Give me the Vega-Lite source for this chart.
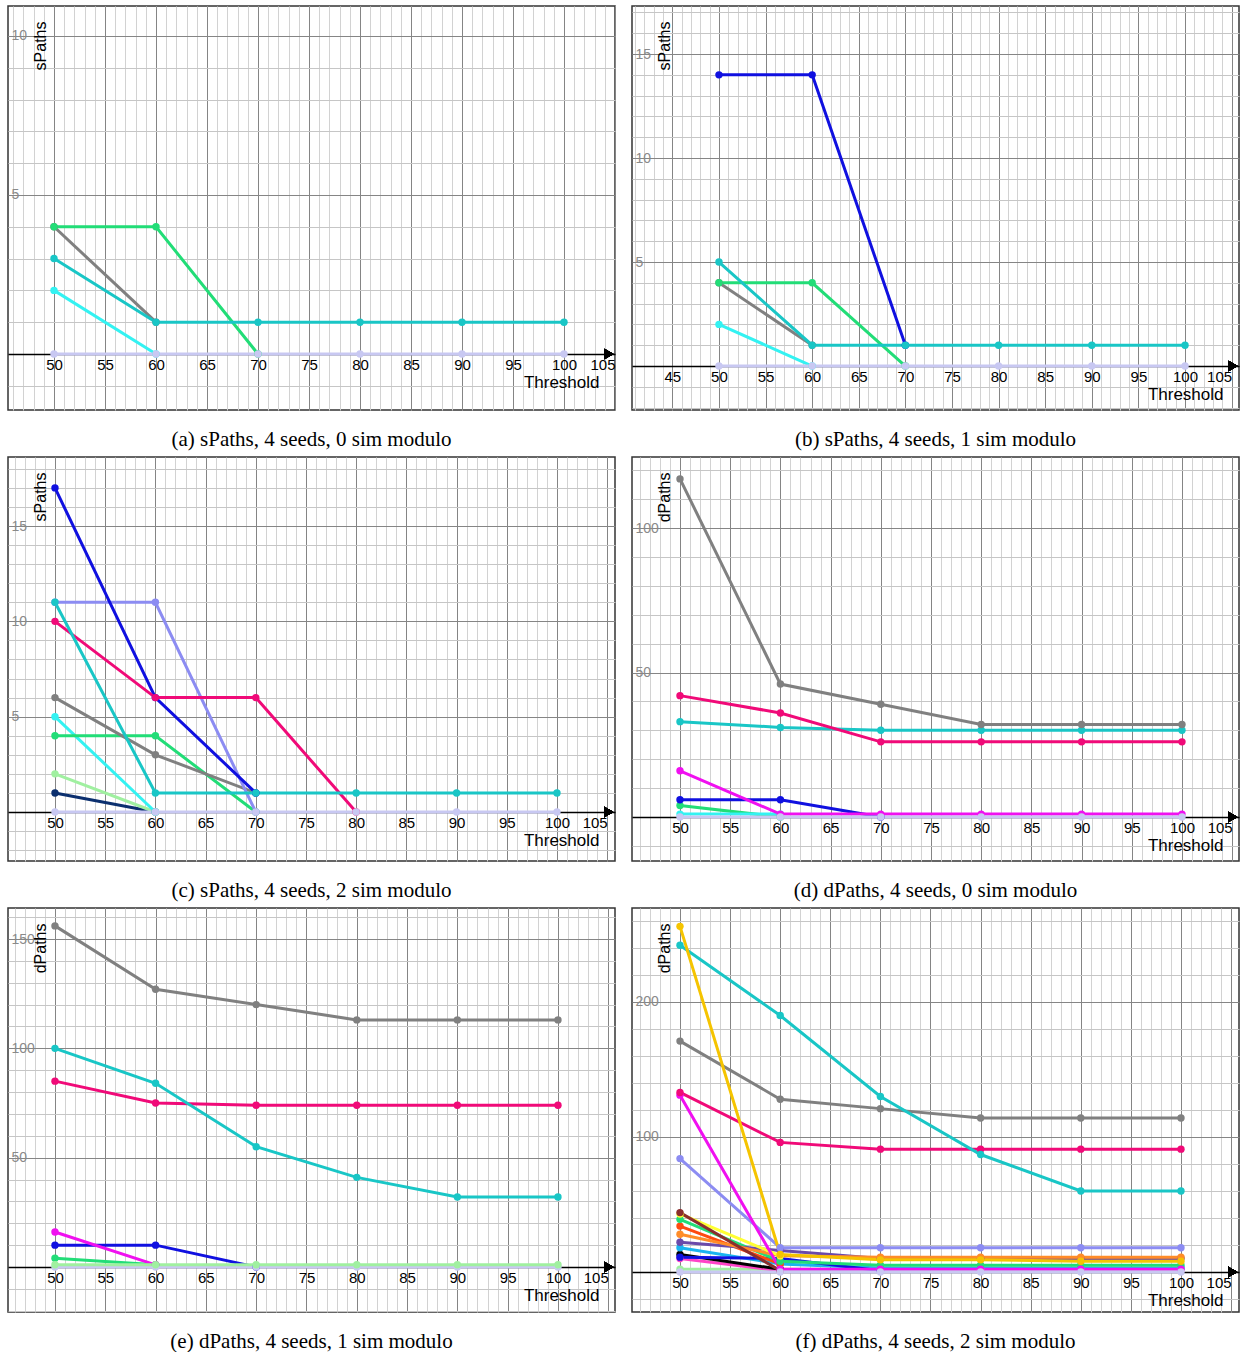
{
"$schema": "https://vega.github.io/schema/vega-lite/v6.json",
"padding": {"left": 7, "top": 5, "right": 0, "bottom": 0},
"columns": 2,
"spacing": {"row": 47, "column": 17},
"bounds": "flush",
"resolve": {"scale": {"color": "independent"}},
"config": {
 "view": {"stroke": "#333333", "strokeWidth": 1.5},
 "axis": {"labelFont": "Liberation Sans", "titleFont": "Liberation Sans"},
 "title": {"orient": "bottom", "font": "Liberation Serif", "fontSize": 21, "fontWeight": "normal", "offset": 19, "color": "black", "anchor": "middle"}
},
"datasets": {
 "a": [
  {"s":"gray","t":50,"v":4},{"s":"gray","t":60,"v":1},
  {"s":"green","t":50,"v":4},{"s":"green","t":60,"v":4},{"s":"green","t":70,"v":0},
  {"s":"cyan","t":50,"v":2},{"s":"cyan","t":60,"v":0},
  {"s":"teal","t":50,"v":3},{"s":"teal","t":60,"v":1},{"s":"teal","t":70,"v":1},{"s":"teal","t":80,"v":1},{"s":"teal","t":90,"v":1},{"s":"teal","t":100,"v":1},
  {"s":"lavender","t":50,"v":0},{"s":"lavender","t":60,"v":0},{"s":"lavender","t":70,"v":0},{"s":"lavender","t":80,"v":0},{"s":"lavender","t":90,"v":0},{"s":"lavender","t":100,"v":0}
 ],
 "b": [
  {"s":"gray","t":50,"v":4},{"s":"gray","t":60,"v":1},
  {"s":"green","t":50,"v":4},{"s":"green","t":60,"v":4},{"s":"green","t":70,"v":0},
  {"s":"cyan","t":50,"v":2},{"s":"cyan","t":60,"v":0},
  {"s":"blue","t":50,"v":14},{"s":"blue","t":60,"v":14},{"s":"blue","t":70,"v":1},
  {"s":"teal","t":50,"v":5},{"s":"teal","t":60,"v":1},{"s":"teal","t":70,"v":1},{"s":"teal","t":80,"v":1},{"s":"teal","t":90,"v":1},{"s":"teal","t":100,"v":1},
  {"s":"lavender","t":50,"v":0},{"s":"lavender","t":60,"v":0},{"s":"lavender","t":70,"v":0},{"s":"lavender","t":80,"v":0},{"s":"lavender","t":90,"v":0},{"s":"lavender","t":100,"v":0}
 ],
 "c": [
  {"s":"navy","t":50,"v":1},{"s":"navy","t":60,"v":0},
  {"s":"lightgreen","t":50,"v":2},{"s":"lightgreen","t":60,"v":0},
  {"s":"cyan","t":50,"v":5},{"s":"cyan","t":60,"v":0},
  {"s":"green","t":50,"v":4},{"s":"green","t":60,"v":4},{"s":"green","t":70,"v":0},
  {"s":"gray","t":50,"v":6},{"s":"gray","t":60,"v":3},{"s":"gray","t":70,"v":1},
  {"s":"periwinkle","t":50,"v":11},{"s":"periwinkle","t":60,"v":11},{"s":"periwinkle","t":70,"v":0},
  {"s":"blue","t":50,"v":17},{"s":"blue","t":60,"v":6},{"s":"blue","t":70,"v":1},
  {"s":"pink","t":50,"v":10},{"s":"pink","t":60,"v":6},{"s":"pink","t":70,"v":6},{"s":"pink","t":80,"v":0},
  {"s":"teal","t":50,"v":11},{"s":"teal","t":60,"v":1},{"s":"teal","t":70,"v":1},{"s":"teal","t":80,"v":1},{"s":"teal","t":90,"v":1},{"s":"teal","t":100,"v":1},
  {"s":"lavender","t":50,"v":0},{"s":"lavender","t":60,"v":0},{"s":"lavender","t":70,"v":0},{"s":"lavender","t":80,"v":0},{"s":"lavender","t":90,"v":0},{"s":"lavender","t":100,"v":0}
 ],
 "d": [
  {"s":"green","t":50,"v":4},{"s":"green","t":60,"v":0},
  {"s":"cyan","t":50,"v":1},{"s":"cyan","t":60,"v":1},
  {"s":"blue","t":50,"v":6},{"s":"blue","t":60,"v":6},{"s":"blue","t":70,"v":0},
  {"s":"magenta","t":50,"v":16},{"s":"magenta","t":60,"v":1},{"s":"magenta","t":70,"v":1},{"s":"magenta","t":80,"v":1},{"s":"magenta","t":90,"v":1},{"s":"magenta","t":100,"v":1},
  {"s":"teal","t":50,"v":33},{"s":"teal","t":60,"v":31},{"s":"teal","t":70,"v":30},{"s":"teal","t":80,"v":30},{"s":"teal","t":90,"v":30},{"s":"teal","t":100,"v":30},
  {"s":"pink","t":50,"v":42},{"s":"pink","t":60,"v":36},{"s":"pink","t":70,"v":26},{"s":"pink","t":80,"v":26},{"s":"pink","t":90,"v":26},{"s":"pink","t":100,"v":26},
  {"s":"gray","t":50,"v":117},{"s":"gray","t":60,"v":46},{"s":"gray","t":70,"v":39},{"s":"gray","t":80,"v":32},{"s":"gray","t":90,"v":32},{"s":"gray","t":100,"v":32},
  {"s":"lavender","t":50,"v":0},{"s":"lavender","t":60,"v":0},{"s":"lavender","t":70,"v":0},{"s":"lavender","t":80,"v":0},{"s":"lavender","t":90,"v":0},{"s":"lavender","t":100,"v":0}
 ],
 "e": [
  {"s":"green","t":50,"v":4},{"s":"green","t":60,"v":1},
  {"s":"blue","t":50,"v":10},{"s":"blue","t":60,"v":10},{"s":"blue","t":70,"v":0},
  {"s":"magenta","t":50,"v":16},{"s":"magenta","t":60,"v":1},
  {"s":"pink","t":50,"v":85},{"s":"pink","t":60,"v":75},{"s":"pink","t":70,"v":74},{"s":"pink","t":80,"v":74},{"s":"pink","t":90,"v":74},{"s":"pink","t":100,"v":74},
  {"s":"teal","t":50,"v":100},{"s":"teal","t":60,"v":84},{"s":"teal","t":70,"v":55},{"s":"teal","t":80,"v":41},{"s":"teal","t":90,"v":32},{"s":"teal","t":100,"v":32},
  {"s":"gray","t":50,"v":156},{"s":"gray","t":60,"v":127},{"s":"gray","t":70,"v":120},{"s":"gray","t":80,"v":113},{"s":"gray","t":90,"v":113},{"s":"gray","t":100,"v":113},
  {"s":"lavender","t":50,"v":0},{"s":"lavender","t":60,"v":0},{"s":"lavender","t":70,"v":0},{"s":"lavender","t":80,"v":0},{"s":"lavender","t":90,"v":0},{"s":"lavender","t":100,"v":0},
  {"s":"lightgreen","t":50,"v":1},{"s":"lightgreen","t":60,"v":1},{"s":"lightgreen","t":70,"v":1},{"s":"lightgreen","t":80,"v":1},{"s":"lightgreen","t":90,"v":1},{"s":"lightgreen","t":100,"v":1}
 ],
 "f": [
  {"s":"lightgreen","t":50,"v":2},{"s":"lightgreen","t":60,"v":2},{"s":"lightgreen","t":70,"v":2},{"s":"lightgreen","t":80,"v":2},{"s":"lightgreen","t":90,"v":2},{"s":"lightgreen","t":100,"v":2},
  {"s":"pinkish","t":50,"v":10},{"s":"pinkish","t":60,"v":1},
  {"s":"black","t":50,"v":13},{"s":"black","t":60,"v":2},
  {"s":"sky","t":50,"v":18},{"s":"sky","t":60,"v":6},{"s":"sky","t":70,"v":3},{"s":"sky","t":80,"v":3},{"s":"sky","t":90,"v":3},{"s":"sky","t":100,"v":3},
  {"s":"blue","t":50,"v":11},{"s":"blue","t":60,"v":10},{"s":"blue","t":70,"v":1},
  {"s":"orangered","t":50,"v":34},{"s":"orangered","t":60,"v":6},
  {"s":"green","t":50,"v":39},{"s":"green","t":60,"v":8},{"s":"green","t":70,"v":5},{"s":"green","t":80,"v":5},{"s":"green","t":90,"v":5},{"s":"green","t":100,"v":5},
  {"s":"purple","t":50,"v":22},{"s":"purple","t":60,"v":16},{"s":"purple","t":70,"v":10},{"s":"purple","t":80,"v":10},{"s":"purple","t":90,"v":10},{"s":"purple","t":100,"v":10},
  {"s":"orange","t":50,"v":28},{"s":"orange","t":60,"v":12},{"s":"orange","t":70,"v":11},{"s":"orange","t":80,"v":11},{"s":"orange","t":90,"v":11},{"s":"orange","t":100,"v":11},
  {"s":"yellow","t":50,"v":43},{"s":"yellow","t":60,"v":12},
  {"s":"brown","t":50,"v":44},{"s":"brown","t":60,"v":1},
  {"s":"periwinkle","t":50,"v":84},{"s":"periwinkle","t":60,"v":18},{"s":"periwinkle","t":70,"v":18},{"s":"periwinkle","t":80,"v":18},{"s":"periwinkle","t":90,"v":18},{"s":"periwinkle","t":100,"v":18},
  {"s":"magenta","t":50,"v":131},{"s":"magenta","t":60,"v":2},{"s":"magenta","t":70,"v":2},{"s":"magenta","t":80,"v":2},{"s":"magenta","t":90,"v":2},{"s":"magenta","t":100,"v":2},
  {"s":"pink","t":50,"v":133},{"s":"pink","t":60,"v":96},{"s":"pink","t":70,"v":91},{"s":"pink","t":80,"v":91},{"s":"pink","t":90,"v":91},{"s":"pink","t":100,"v":91},
  {"s":"gray","t":50,"v":171},{"s":"gray","t":60,"v":128},{"s":"gray","t":70,"v":121},{"s":"gray","t":80,"v":114},{"s":"gray","t":90,"v":114},{"s":"gray","t":100,"v":114},
  {"s":"teal","t":50,"v":242},{"s":"teal","t":60,"v":190},{"s":"teal","t":70,"v":130},{"s":"teal","t":80,"v":87},{"s":"teal","t":90,"v":60},{"s":"teal","t":100,"v":60},
  {"s":"gold","t":50,"v":256},{"s":"gold","t":60,"v":13},{"s":"gold","t":70,"v":9},{"s":"gold","t":80,"v":9},{"s":"gold","t":90,"v":8},{"s":"gold","t":100,"v":8},
  {"s":"lavender","t":50,"v":0},{"s":"lavender","t":60,"v":0},{"s":"lavender","t":70,"v":0},{"s":"lavender","t":80,"v":0},{"s":"lavender","t":90,"v":0},{"s":"lavender","t":100,"v":0}
 ]
},
"concat": [
 {
  "width": 607, "height": 404,
  "data": {"name": "a"},
  "title": {"text": "(a) sPaths, 4 seeds, 0 sim modulo"},
  "resolve": {"axis": {"x": "independent", "y": "independent"}},
  "layer": [
   {"mark": {"type": "point", "opacity": 0},
    "encoding": {
     "x": {"field": "t", "type": "quantitative", "scale": {"domain": [45.49, 105.0], "nice": false, "zero": false},
       "axis": {"values": [46,47,48,49,50,51,52,53,54,55,56,57,58,59,60,61,62,63,64,65,66,67,68,69,70,71,72,73,74,75,76,77,78,79,80,81,82,83,84,85,86,87,88,89,90,91,92,93,94,95,96,97,98,99,100,101,102,103,104,105], "grid": true, "gridColor": "#d2d2d2", "labels": false, "ticks": false, "domain": false, "title": null}},
     "y": {"field": "v", "type": "quantitative", "scale": {"domain": [-1.76, 10.94], "nice": false, "zero": false},
       "axis": {"values": [-1,1,2,3,4,6,7,8,9,10], "grid": true, "gridColor": "#c6c6c6", "labels": false, "ticks": false, "domain": false, "title": null}}
    }},
   {"mark": {"type": "point", "opacity": 0},
    "encoding": {
     "x": {"field": "t", "type": "quantitative", "axis": {"values": [50,55,60,65,70,75,80,85,90,95,100,105], "grid": true, "gridColor": "#858585", "labels": false, "ticks": false, "domain": false, "title": null}},
     "y": {"field": "v", "type": "quantitative", "axis": {"values": [5,10], "grid": true, "gridColor": "#858585", "labels": false, "ticks": false, "domain": false, "title": null}}
    }},
   {"mark": {"type": "line", "strokeWidth": 3, "point": {"filled": true, "size": 55, "opacity": 1}},
    "encoding": {
     "x": {"field": "t", "type": "quantitative", "axis": {"orient": "bottom", "offset": -56, "values": [50,55,60,65,70,75,80,85,90,95,100,105], "grid": false, "ticks": false, "domain": true, "domainColor": "black", "domainWidth": 1.5, "labelColor": "black", "labelFontSize": 15, "labelPadding": 3, "labelFlush": 12, "labelOverlap": false, "title": "Threshold", "titleFontSize": 17, "titleFontWeight": "normal", "titleColor": "black", "titleAlign": "right", "titleBaseline": "middle", "titleX": 591, "titleY": 28}},
     "y": {"field": "v", "type": "quantitative", "axis": {"orient": "left", "values": [5,10], "grid": false, "ticks": false, "domain": false, "labelColor": "#8a8a8a", "labelFontSize": 14, "labelAlign": "left", "labelPadding": -3, "title": "sPaths", "titleFontSize": 16, "titleFontWeight": "normal", "titleColor": "black", "titleAngle": -90, "titleAlign": "right", "titleBaseline": "alphabetic", "titleX": 37, "titleY": 15}},
     "color": {"field": "s", "type": "nominal", "legend": null, "scale": {"domain": ["gray","green","cyan","teal","lavender"], "range": ["#808080","#22dd77","#33f2f2","#19c6c6","#c8c8f2"]}}
    }},
   {"mark": {"type": "point", "shape": "triangle-right", "filled": true, "size": 110, "color": "black", "opacity": 1},
    "encoding": {"x": {"datum": 104.4, "type": "quantitative", "axis": null}, "y": {"datum": 0, "type": "quantitative", "axis": null}}}
  ]
 },
 {
  "width": 607, "height": 404,
  "data": {"name": "b"},
  "title": {"text": "(b) sPaths, 4 seeds, 1 sim modulo"},
  "resolve": {"axis": {"x": "independent", "y": "independent"}},
  "layer": [
   {"mark": {"type": "point", "opacity": 0},
    "encoding": {
     "x": {"field": "t", "type": "quantitative", "scale": {"domain": [40.67, 105.79], "nice": false, "zero": false},
       "axis": {"values": [41,42,43,44,45,46,47,48,49,50,51,52,53,54,55,56,57,58,59,60,61,62,63,64,65,66,67,68,69,70,71,72,73,74,75,76,77,78,79,80,81,82,83,84,85,86,87,88,89,90,91,92,93,94,95,96,97,98,99,100,101,102,103,104,105], "grid": true, "gridColor": "#d2d2d2", "labels": false, "ticks": false, "domain": false, "title": null}},
     "y": {"field": "v", "type": "quantitative", "scale": {"domain": [-2.115, 17.31], "nice": false, "zero": false},
       "axis": {"values": [-2,-1,1,2,3,4,6,7,8,9,11,12,13,14,16,17], "grid": true, "gridColor": "#c6c6c6", "labels": false, "ticks": false, "domain": false, "title": null}}
    }},
   {"mark": {"type": "point", "opacity": 0},
    "encoding": {
     "x": {"field": "t", "type": "quantitative", "axis": {"values": [45,50,55,60,65,70,75,80,85,90,95,100,105], "grid": true, "gridColor": "#858585", "labels": false, "ticks": false, "domain": false, "title": null}},
     "y": {"field": "v", "type": "quantitative", "axis": {"values": [5,10,15], "grid": true, "gridColor": "#858585", "labels": false, "ticks": false, "domain": false, "title": null}}
    }},
   {"mark": {"type": "line", "strokeWidth": 3, "point": {"filled": true, "size": 55, "opacity": 1}},
    "encoding": {
     "x": {"field": "t", "type": "quantitative", "axis": {"orient": "bottom", "offset": -44, "values": [45,50,55,60,65,70,75,80,85,90,95,100,105], "grid": false, "ticks": false, "domain": true, "domainColor": "black", "domainWidth": 1.5, "labelColor": "black", "labelFontSize": 15, "labelPadding": 3, "labelFlush": 12, "labelOverlap": false, "title": "Threshold", "titleFontSize": 17, "titleFontWeight": "normal", "titleColor": "black", "titleAlign": "right", "titleBaseline": "middle", "titleX": 591, "titleY": 28}},
     "y": {"field": "v", "type": "quantitative", "axis": {"orient": "left", "values": [5,10,15], "grid": false, "ticks": false, "domain": false, "labelColor": "#8a8a8a", "labelFontSize": 14, "labelAlign": "left", "labelPadding": -3, "title": "sPaths", "titleFontSize": 16, "titleFontWeight": "normal", "titleColor": "black", "titleAngle": -90, "titleAlign": "right", "titleBaseline": "alphabetic", "titleX": 37, "titleY": 15}},
     "color": {"field": "s", "type": "nominal", "legend": null, "scale": {"domain": ["gray","green","cyan","blue","teal","lavender"], "range": ["#808080","#22dd77","#33f2f2","#1010e0","#19c6c6","#c8c8f2"]}}
    }},
   {"mark": {"type": "point", "shape": "triangle-right", "filled": true, "size": 110, "color": "black", "opacity": 1},
    "encoding": {"x": {"datum": 105.15, "type": "quantitative", "axis": null}, "y": {"datum": 0, "type": "quantitative", "axis": null}}}
  ]
 },
 {
  "width": 607, "height": 404,
  "data": {"name": "c"},
  "title": {"text": "(c) sPaths, 4 seeds, 2 sim modulo"},
  "resolve": {"axis": {"x": "independent", "y": "independent"}},
  "layer": [
   {"mark": {"type": "point", "opacity": 0},
    "encoding": {
     "x": {"field": "t", "type": "quantitative", "scale": {"domain": [45.32, 105.78], "nice": false, "zero": false},
       "axis": {"values": [46,47,48,49,50,51,52,53,54,55,56,57,58,59,60,61,62,63,64,65,66,67,68,69,70,71,72,73,74,75,76,77,78,79,80,81,82,83,84,85,86,87,88,89,90,91,92,93,94,95,96,97,98,99,100,101,102,103,104,105], "grid": true, "gridColor": "#d2d2d2", "labels": false, "ticks": false, "domain": false, "title": null}},
     "y": {"field": "v", "type": "quantitative", "scale": {"domain": [-2.57, 18.62], "nice": false, "zero": false},
       "axis": {"values": [-2,-1,1,2,3,4,6,7,8,9,11,12,13,14,16,17,18], "grid": true, "gridColor": "#c6c6c6", "labels": false, "ticks": false, "domain": false, "title": null}}
    }},
   {"mark": {"type": "point", "opacity": 0},
    "encoding": {
     "x": {"field": "t", "type": "quantitative", "axis": {"values": [50,55,60,65,70,75,80,85,90,95,100,105], "grid": true, "gridColor": "#858585", "labels": false, "ticks": false, "domain": false, "title": null}},
     "y": {"field": "v", "type": "quantitative", "axis": {"values": [5,10,15], "grid": true, "gridColor": "#858585", "labels": false, "ticks": false, "domain": false, "title": null}}
    }},
   {"mark": {"type": "line", "strokeWidth": 3, "point": {"filled": true, "size": 55, "opacity": 1}},
    "encoding": {
     "x": {"field": "t", "type": "quantitative", "axis": {"orient": "bottom", "offset": -49, "values": [50,55,60,65,70,75,80,85,90,95,100,105], "grid": false, "ticks": false, "domain": true, "domainColor": "black", "domainWidth": 1.5, "labelColor": "black", "labelFontSize": 15, "labelPadding": 3, "labelFlush": 12, "labelOverlap": false, "title": "Threshold", "titleFontSize": 17, "titleFontWeight": "normal", "titleColor": "black", "titleAlign": "right", "titleBaseline": "middle", "titleX": 591, "titleY": 28}},
     "y": {"field": "v", "type": "quantitative", "axis": {"orient": "left", "values": [5,10,15], "grid": false, "ticks": false, "domain": false, "labelColor": "#8a8a8a", "labelFontSize": 14, "labelAlign": "left", "labelPadding": -3, "title": "sPaths", "titleFontSize": 16, "titleFontWeight": "normal", "titleColor": "black", "titleAngle": -90, "titleAlign": "right", "titleBaseline": "alphabetic", "titleX": 37, "titleY": 15}},
     "color": {"field": "s", "type": "nominal", "legend": null, "scale": {"domain": ["navy","lightgreen","cyan","green","gray","periwinkle","blue","pink","teal","lavender"], "range": ["#0b2f6e","#a0f0a0","#33f2f2","#22dd77","#808080","#8c8cf2","#1010e0","#f00a78","#19c6c6","#c8c8f2"]}}
    }},
   {"mark": {"type": "point", "shape": "triangle-right", "filled": true, "size": 110, "color": "black", "opacity": 1},
    "encoding": {"x": {"datum": 105.15, "type": "quantitative", "axis": null}, "y": {"datum": 0, "type": "quantitative", "axis": null}}}
  ]
 },
 {
  "width": 607, "height": 404,
  "data": {"name": "d"},
  "title": {"text": "(d) dPaths, 4 seeds, 0 sim modulo"},
  "resolve": {"axis": {"x": "independent", "y": "independent"}},
  "layer": [
   {"mark": {"type": "point", "opacity": 0},
    "encoding": {
     "x": {"field": "t", "type": "quantitative", "scale": {"domain": [45.22, 105.68], "nice": false, "zero": false},
       "axis": {"values": [46,47,48,49,50,51,52,53,54,55,56,57,58,59,60,61,62,63,64,65,66,67,68,69,70,71,72,73,74,75,76,77,78,79,80,81,82,83,84,85,86,87,88,89,90,91,92,93,94,95,96,97,98,99,100,101,102,103,104,105], "grid": true, "gridColor": "#d2d2d2", "labels": false, "ticks": false, "domain": false, "title": null}},
     "y": {"field": "v", "type": "quantitative", "scale": {"domain": [-15.22, 124.57], "nice": false, "zero": false},
       "axis": {"values": [-10,10,20,30,40,60,70,80,90,110,120], "grid": true, "gridColor": "#c6c6c6", "labels": false, "ticks": false, "domain": false, "title": null}}
    }},
   {"mark": {"type": "point", "opacity": 0},
    "encoding": {
     "x": {"field": "t", "type": "quantitative", "axis": {"values": [50,55,60,65,70,75,80,85,90,95,100,105], "grid": true, "gridColor": "#858585", "labels": false, "ticks": false, "domain": false, "title": null}},
     "y": {"field": "v", "type": "quantitative", "axis": {"values": [50,100], "grid": true, "gridColor": "#858585", "labels": false, "ticks": false, "domain": false, "title": null}}
    }},
   {"mark": {"type": "line", "strokeWidth": 3, "point": {"filled": true, "size": 55, "opacity": 1}},
    "encoding": {
     "x": {"field": "t", "type": "quantitative", "axis": {"orient": "bottom", "offset": -44, "values": [50,55,60,65,70,75,80,85,90,95,100,105], "grid": false, "ticks": false, "domain": true, "domainColor": "black", "domainWidth": 1.5, "labelColor": "black", "labelFontSize": 15, "labelPadding": 3, "labelFlush": 12, "labelOverlap": false, "title": "Threshold", "titleFontSize": 17, "titleFontWeight": "normal", "titleColor": "black", "titleAlign": "right", "titleBaseline": "middle", "titleX": 591, "titleY": 28}},
     "y": {"field": "v", "type": "quantitative", "axis": {"orient": "left", "values": [50,100], "grid": false, "ticks": false, "domain": false, "labelColor": "#8a8a8a", "labelFontSize": 14, "labelAlign": "left", "labelPadding": -3, "title": "dPaths", "titleFontSize": 16, "titleFontWeight": "normal", "titleColor": "black", "titleAngle": -90, "titleAlign": "right", "titleBaseline": "alphabetic", "titleX": 37, "titleY": 15}},
     "color": {"field": "s", "type": "nominal", "legend": null, "scale": {"domain": ["green","cyan","blue","magenta","teal","pink","gray","lavender"], "range": ["#22dd77","#33f2f2","#1010e0","#f010f0","#19c6c6","#f00a78","#808080","#c8c8f2"]}}
    }},
   {"mark": {"type": "point", "shape": "triangle-right", "filled": true, "size": 110, "color": "black", "opacity": 1},
    "encoding": {"x": {"datum": 105.05, "type": "quantitative", "axis": null}, "y": {"datum": 0, "type": "quantitative", "axis": null}}}
  ]
 },
 {
  "width": 607, "height": 404,
  "data": {"name": "e"},
  "title": {"text": "(e) dPaths, 4 seeds, 1 sim modulo"},
  "resolve": {"axis": {"x": "independent", "y": "independent"}},
  "layer": [
   {"mark": {"type": "point", "opacity": 0},
    "encoding": {
     "x": {"field": "t", "type": "quantitative", "scale": {"domain": [45.33, 105.67], "nice": false, "zero": false},
       "axis": {"values": [46,47,48,49,50,51,52,53,54,55,56,57,58,59,60,61,62,63,64,65,66,67,68,69,70,71,72,73,74,75,76,77,78,79,80,81,82,83,84,85,86,87,88,89,90,91,92,93,94,95,96,97,98,99,100,101,102,103,104,105], "grid": true, "gridColor": "#d2d2d2", "labels": false, "ticks": false, "domain": false, "title": null}},
     "y": {"field": "v", "type": "quantitative", "scale": {"domain": [-20.58, 164.18], "nice": false, "zero": false},
       "axis": {"values": [-20,-10,10,20,30,40,60,70,80,90,110,120,130,140,160], "grid": true, "gridColor": "#c6c6c6", "labels": false, "ticks": false, "domain": false, "title": null}}
    }},
   {"mark": {"type": "point", "opacity": 0},
    "encoding": {
     "x": {"field": "t", "type": "quantitative", "axis": {"values": [50,55,60,65,70,75,80,85,90,95,100,105], "grid": true, "gridColor": "#858585", "labels": false, "ticks": false, "domain": false, "title": null}},
     "y": {"field": "v", "type": "quantitative", "axis": {"values": [50,100,150], "grid": true, "gridColor": "#858585", "labels": false, "ticks": false, "domain": false, "title": null}}
    }},
   {"mark": {"type": "line", "strokeWidth": 3, "point": {"filled": true, "size": 55, "opacity": 1}},
    "encoding": {
     "x": {"field": "t", "type": "quantitative", "axis": {"orient": "bottom", "offset": -45, "values": [50,55,60,65,70,75,80,85,90,95,100,105], "grid": false, "ticks": false, "domain": true, "domainColor": "black", "domainWidth": 1.5, "labelColor": "black", "labelFontSize": 15, "labelPadding": 3, "labelFlush": 12, "labelOverlap": false, "title": "Threshold", "titleFontSize": 17, "titleFontWeight": "normal", "titleColor": "black", "titleAlign": "right", "titleBaseline": "middle", "titleX": 591, "titleY": 28}},
     "y": {"field": "v", "type": "quantitative", "axis": {"orient": "left", "values": [50,100,150], "grid": false, "ticks": false, "domain": false, "labelColor": "#8a8a8a", "labelFontSize": 14, "labelAlign": "left", "labelPadding": -3, "title": "dPaths", "titleFontSize": 16, "titleFontWeight": "normal", "titleColor": "black", "titleAngle": -90, "titleAlign": "right", "titleBaseline": "alphabetic", "titleX": 37, "titleY": 15}},
     "color": {"field": "s", "type": "nominal", "legend": null, "scale": {"domain": ["green","blue","magenta","pink","teal","gray","lavender","lightgreen"], "range": ["#22dd77","#1010e0","#f010f0","#f00a78","#19c6c6","#808080","#c8c8f2","#a0f0a0"]}}
    }},
   {"mark": {"type": "point", "shape": "triangle-right", "filled": true, "size": 110, "color": "black", "opacity": 1},
    "encoding": {"x": {"datum": 105.05, "type": "quantitative", "axis": null}, "y": {"datum": 0, "type": "quantitative", "axis": null}}}
  ]
 },
 {
  "width": 607, "height": 404,
  "data": {"name": "f"},
  "title": {"text": "(f) dPaths, 4 seeds, 2 sim modulo"},
  "resolve": {"axis": {"x": "independent", "y": "independent"}},
  "layer": [
   {"mark": {"type": "point", "opacity": 0},
    "encoding": {
     "x": {"field": "t", "type": "quantitative", "scale": {"domain": [45.21, 105.79], "nice": false, "zero": false},
       "axis": {"values": [46,47,48,49,50,51,52,53,54,55,56,57,58,59,60,61,62,63,64,65,66,67,68,69,70,71,72,73,74,75,76,77,78,79,80,81,82,83,84,85,86,87,88,89,90,91,92,93,94,95,96,97,98,99,100,101,102,103,104,105], "grid": true, "gridColor": "#d2d2d2", "labels": false, "ticks": false, "domain": false, "title": null}},
     "y": {"field": "v", "type": "quantitative", "scale": {"domain": [-29.63, 269.6], "nice": false, "zero": false},
       "axis": {"values": [-20,20,40,60,80,120,140,160,180,220,240,260], "grid": true, "gridColor": "#c6c6c6", "labels": false, "ticks": false, "domain": false, "title": null}}
    }},
   {"mark": {"type": "point", "opacity": 0},
    "encoding": {
     "x": {"field": "t", "type": "quantitative", "axis": {"values": [50,55,60,65,70,75,80,85,90,95,100,105], "grid": true, "gridColor": "#858585", "labels": false, "ticks": false, "domain": false, "title": null}},
     "y": {"field": "v", "type": "quantitative", "axis": {"values": [100,200], "grid": true, "gridColor": "#858585", "labels": false, "ticks": false, "domain": false, "title": null}}
    }},
   {"mark": {"type": "line", "strokeWidth": 3, "point": {"filled": true, "size": 55, "opacity": 1}},
    "encoding": {
     "x": {"field": "t", "type": "quantitative", "axis": {"orient": "bottom", "offset": -40, "values": [50,55,60,65,70,75,80,85,90,95,100,105], "grid": false, "ticks": false, "domain": true, "domainColor": "black", "domainWidth": 1.5, "labelColor": "black", "labelFontSize": 15, "labelPadding": 3, "labelFlush": 12, "labelOverlap": false, "title": "Threshold", "titleFontSize": 17, "titleFontWeight": "normal", "titleColor": "black", "titleAlign": "right", "titleBaseline": "middle", "titleX": 591, "titleY": 28}},
     "y": {"field": "v", "type": "quantitative", "axis": {"orient": "left", "values": [100,200], "grid": false, "ticks": false, "domain": false, "labelColor": "#8a8a8a", "labelFontSize": 14, "labelAlign": "left", "labelPadding": -3, "title": "dPaths", "titleFontSize": 16, "titleFontWeight": "normal", "titleColor": "black", "titleAngle": -90, "titleAlign": "right", "titleBaseline": "alphabetic", "titleX": 37, "titleY": 15}},
     "color": {"field": "s", "type": "nominal", "legend": null, "scale": {"domain": ["lightgreen","pinkish","black","sky","blue","orangered","green","purple","orange","yellow","brown","periwinkle","magenta","pink","gray","teal","gold","lavender"], "range": ["#a0f0a0","#ff44c8","#000000","#1ab4f0","#1010e0","#ff4a10","#22dd77","#6a4aaa","#ff8c28","#ffff33","#8b2e2e","#8c8cf2","#f010f0","#f00a78","#808080","#19c6c6","#f5c400","#c8c8f2"]}}
    }},
   {"mark": {"type": "point", "shape": "triangle-right", "filled": true, "size": 110, "color": "black", "opacity": 1},
    "encoding": {"x": {"datum": 105.15, "type": "quantitative", "axis": null}, "y": {"datum": 0, "type": "quantitative", "axis": null}}}
  ]
 }
]
}
